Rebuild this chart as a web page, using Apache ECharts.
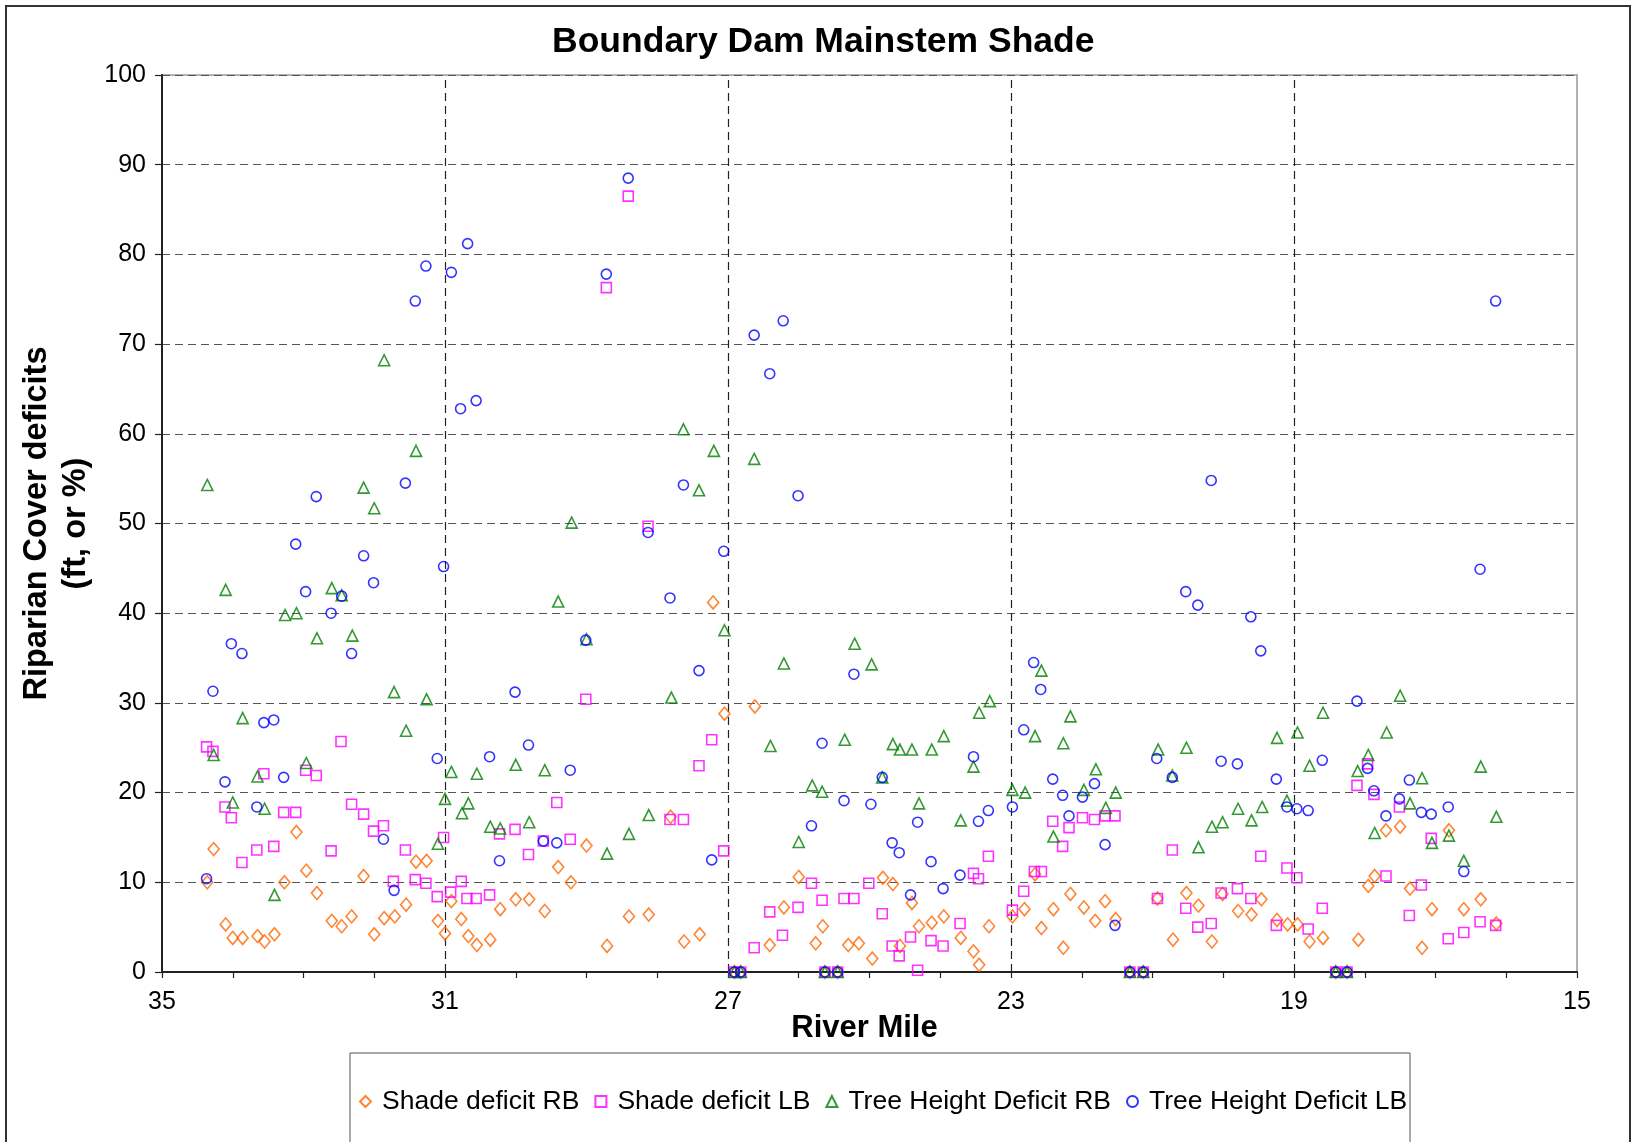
<!DOCTYPE html>
<html>
<head>
<meta charset="utf-8">
<script src="https://cdn.jsdelivr.net/npm/echarts@6/dist/echarts.min.js"></script>
<style>
html,body{margin:0;padding:0;background:#fff;}
#chart{width:1635px;height:1142px;}
</style>
</head>
<body>
<div id="chart"></div>
<script>
// [river mile, value]
const shadeDeficitRB = [
[34.36,10.0],[34.27,13.7],[34.10,5.3],[34.00,3.8],[33.86,3.8],[33.65,4.0],[33.55,3.4],[33.41,4.2],[33.27,10.0],[33.10,15.6],
[32.96,11.3],[32.81,8.8],[32.60,5.7],[32.46,5.1],[32.32,6.2],[32.15,10.7],[32.00,4.2],[31.86,6.0],[31.71,6.2],[31.55,7.5],
[31.41,12.3],[31.26,12.4],[31.10,5.7],[31.00,4.3],[30.91,7.9],[30.77,5.9],[30.67,4.0],[30.55,3.0],[30.36,3.6],[30.22,7.0],
[30.00,8.1],[29.81,8.1],[29.59,6.8],[29.40,11.7],[29.22,10.0],[29.00,14.1],[28.71,2.9],[28.40,6.2],[28.12,6.4],[27.81,17.3],
[27.62,3.4],[27.40,4.2],[27.21,41.2],[27.05,28.8],[26.91,0],[26.82,0],[26.62,29.6],[26.41,3.0],[26.21,7.2],[26.00,10.6],
[25.76,3.2],[25.66,5.1],[25.63,0],[25.45,0],[25.30,3.0],[25.15,3.2],[24.96,1.5],[24.81,10.5],[24.67,9.8],[24.57,2.9],
[24.40,7.7],[24.30,5.1],[24.12,5.5],[23.95,6.2],[23.71,3.8],[23.53,2.3],[23.45,0.8],[23.31,5.1],[22.98,6.2],[22.81,7.0],
[22.66,10.9],[22.57,4.9],[22.40,7.0],[22.26,2.7],[22.16,8.7],[21.97,7.2],[21.81,5.7],[21.67,7.9],[21.52,5.9],[21.32,0],
[21.13,0],[20.93,8.2],[20.71,3.6],[20.52,8.8],[20.35,7.4],[20.16,3.4],[20.01,8.7],[19.79,6.8],[19.60,6.4],[19.46,8.1],
[19.24,5.8],[19.09,5.3],[18.95,5.3],[18.78,3.4],[18.59,3.8],[18.41,0],[18.25,0],[18.09,3.6],[17.95,9.6],[17.86,10.7],
[17.70,15.8],[17.50,16.2],[17.36,9.3],[17.19,2.7],[17.05,7.0],[16.81,15.8],[16.60,7.0],[16.36,8.1],[16.14,5.4]
];
const shadeDeficitLB = [
[34.37,25.1],[34.28,24.6],[34.11,18.4],[34.02,17.2],[33.87,12.2],[33.66,13.6],[33.56,22.1],[33.42,14.0],[33.28,17.8],[33.11,17.8],
[32.97,22.5],[32.82,21.9],[32.61,13.5],[32.47,25.7],[32.32,18.7],[32.15,17.6],[32.01,15.7],[31.87,16.3],[31.73,10.1],[31.56,13.6],
[31.42,10.3],[31.27,9.9],[31.11,8.4],[31.02,15.0],[30.92,8.9],[30.77,10.1],[30.69,8.2],[30.56,8.2],[30.37,8.6],[30.23,15.4],
[30.01,15.9],[29.82,13.1],[29.61,14.6],[29.42,18.9],[29.23,14.8],[29.01,30.4],[28.72,76.3],[28.41,86.5],[28.13,49.7],[27.82,17.0],
[27.63,17.0],[27.41,23.0],[27.23,25.9],[27.06,13.5],[26.91,0],[26.82,0],[26.63,2.7],[26.41,6.7],[26.23,4.1],[26.01,7.2],
[25.82,9.9],[25.67,8.0],[25.63,0],[25.45,0],[25.36,8.2],[25.22,8.2],[25.01,9.9],[24.82,6.5],[24.68,2.9],[24.58,1.8],
[24.42,3.9],[24.32,0.2],[24.13,3.5],[23.96,2.9],[23.72,5.4],[23.53,11.0],[23.46,10.4],[23.32,12.9],[22.98,6.9],[22.82,9.0],
[22.67,11.2],[22.57,11.2],[22.41,16.8],[22.27,14.0],[22.18,16.1],[21.99,17.2],[21.82,17.0],[21.67,17.4],[21.53,17.4],[21.32,0],
[21.13,0],[20.93,8.2],[20.72,13.6],[20.53,7.1],[20.36,5.0],[20.17,5.4],[20.03,8.8],[19.80,9.3],[19.61,8.2],[19.47,12.9],
[19.25,5.2],[19.10,11.6],[18.96,10.5],[18.80,4.8],[18.60,7.1],[18.41,0],[18.25,0],[18.11,20.8],[17.96,23.2],[17.87,19.8],
[17.70,10.7],[17.51,18.4],[17.37,6.3],[17.20,9.7],[17.06,14.9],[16.82,3.7],[16.60,4.4],[16.37,5.6],[16.15,5.2]
];
const treeHeightDeficitRB = [
[34.36,54.3],[34.27,24.2],[34.10,42.6],[34.00,18.9],[33.86,28.3],[33.65,21.8],[33.55,18.2],[33.41,8.6],[33.26,39.8],[33.10,40.0],
[32.96,23.3],[32.81,37.2],[32.60,42.8],[32.46,42.0],[32.31,37.5],[32.15,54.0],[32.00,51.7],[31.86,68.2],[31.72,31.2],[31.55,26.9],
[31.41,58.1],[31.26,30.4],[31.10,14.3],[31.00,19.3],[30.91,22.3],[30.76,17.7],[30.67,18.8],[30.55,22.1],[30.36,16.2],[30.22,16.0],
[30.00,23.1],[29.81,16.7],[29.59,22.5],[29.40,41.3],[29.21,50.1],[29.00,37.1],[28.71,13.2],[28.40,15.4],[28.12,17.5],[27.80,30.6],
[27.63,60.5],[27.41,53.7],[27.20,58.1],[27.05,38.1],[26.91,0],[26.82,0],[26.63,57.2],[26.40,25.2],[26.21,34.4],[26.00,14.5],
[25.81,20.8],[25.67,20.1],[25.63,0],[25.45,0],[25.35,25.9],[25.21,36.6],[24.97,34.3],[24.82,21.7],[24.67,25.4],[24.57,24.8],
[24.40,24.8],[24.30,18.8],[24.12,24.8],[23.95,26.3],[23.71,16.9],[23.53,22.9],[23.45,28.9],[23.30,30.2],[22.98,20.3],[22.80,20.0],
[22.66,26.3],[22.57,33.6],[22.40,15.1],[22.26,25.5],[22.16,28.5],[21.97,20.3],[21.80,22.6],[21.66,18.3],[21.52,20.0],[21.32,0],
[21.13,0],[20.92,24.8],[20.72,21.9],[20.52,25.0],[20.35,13.9],[20.16,16.2],[20.01,16.7],[19.79,18.2],[19.60,16.9],[19.45,18.4],
[19.24,26.1],[19.10,19.1],[18.95,26.7],[18.78,23.0],[18.59,28.9],[18.41,0],[18.25,0],[18.10,22.4],[17.95,24.2],[17.86,15.5],
[17.69,26.7],[17.50,30.8],[17.36,18.8],[17.19,21.6],[17.05,14.4],[16.81,15.2],[16.60,12.4],[16.36,22.9],[16.14,17.3]
];
const treeHeightDeficitLB = [
[34.37,10.4],[34.28,31.3],[34.11,21.2],[34.02,36.6],[33.87,35.5],[33.66,18.4],[33.56,27.8],[33.42,28.1],[33.28,21.7],[33.11,47.7],
[32.97,42.4],[32.82,53.0],[32.61,40.0],[32.46,41.9],[32.32,35.5],[32.15,46.4],[32.01,43.4],[31.87,14.8],[31.72,9.1],[31.56,54.5],
[31.42,74.8],[31.27,78.7],[31.11,23.8],[31.02,45.2],[30.91,78.0],[30.78,62.8],[30.68,81.2],[30.56,63.7],[30.37,24.0],[30.23,12.4],
[30.01,31.2],[29.82,25.3],[29.61,14.6],[29.42,14.4],[29.23,22.5],[29.01,37.0],[28.72,77.8],[28.41,88.5],[28.13,49.0],[27.82,41.7],
[27.63,54.3],[27.41,33.6],[27.23,12.5],[27.06,46.9],[26.91,0],[26.82,0],[26.63,71.0],[26.41,66.7],[26.22,72.6],[26.01,53.1],
[25.82,16.3],[25.67,25.5],[25.63,0],[25.45,0],[25.36,19.1],[25.22,33.2],[24.98,18.7],[24.82,21.7],[24.68,14.4],[24.58,13.3],
[24.42,8.6],[24.32,16.7],[24.13,12.3],[23.96,9.3],[23.72,10.8],[23.53,24.0],[23.46,16.8],[23.32,18.0],[22.98,18.4],[22.82,27.0],
[22.68,34.5],[22.58,31.5],[22.41,21.5],[22.27,19.7],[22.18,17.4],[21.99,19.5],[21.82,21.0],[21.67,14.2],[21.53,5.2],[21.32,0],
[21.13,0],[20.94,23.8],[20.72,21.7],[20.53,42.4],[20.36,40.9],[20.17,54.8],[20.03,23.5],[19.80,23.2],[19.61,39.6],[19.47,35.8],
[19.25,21.5],[19.10,18.4],[18.96,18.2],[18.80,18.0],[18.60,23.6],[18.41,0],[18.25,0],[18.11,30.2],[17.96,22.7],[17.87,20.2],
[17.70,17.4],[17.51,19.3],[17.37,21.4],[17.20,17.8],[17.06,17.6],[16.82,18.4],[16.60,11.2],[16.37,44.9],[16.15,74.8]
];
const seriesNames = ['Shade deficit RB','Shade deficit LB','Tree Height Deficit RB','Tree Height Deficit LB'];
const verticalGridMiles = [31, 27, 23, 19];

const FONT = "'Liberation Sans', Arial, sans-serif";
const chart = echarts.init(document.getElementById('chart'), null, {renderer:'canvas'});

function hollow(name, data, symbol, size, color){
  return {
    name: name, type: 'scatter', data: data, symbol: symbol, symbolSize: size,
    itemStyle: {color: 'rgba(255,255,255,0)', borderColor: color, borderWidth: 1.6},
    emphasis: {disabled: true}, z: 3
  };
}

const s0 = hollow(seriesNames[0], shadeDeficitRB, 'diamond', [11,13], '#FF6600');
s0.markLine = {
  silent: true, symbol: 'none', animation: false, z: 1,
  label: {show: false},
  lineStyle: {color: '#222', width: 1.2, type: [8,5]},
  data: verticalGridMiles.map(v => ({xAxis: v}))
};

const option = {
  animation: false,
  backgroundColor: '#fff',
  title: {
    text: 'Boundary Dam Mainstem Shade',
    left: 552, top: 24, padding: 0,
    textStyle: {fontFamily: FONT, fontSize: 35.5, fontWeight: 'bold', color: '#000'}
  },
  grid: {left: 162, right: 58, top: 75, bottom: 170, show: true, borderColor: '#999', borderWidth: 1.5},
  xAxis: {
    type: 'value', min: 15, max: 35, interval: 1, inverse: true,
    name: 'River Mile', nameLocation: 'middle', nameGap: 41, nameMoveOverlap: false,
    nameTextStyle: {fontFamily: FONT, fontSize: 31, fontWeight: 'bold', color: '#000', padding: [0, 10, 0, 0]},
    axisLine: {show: true, onZero: false, lineStyle: {color: '#222', width: 2}},
    axisTick: {show: true, length: 6, lineStyle: {color: '#222', width: 1.2}},
    axisLabel: {
      fontFamily: FONT, fontSize: 25, color: '#000', margin: 18,
      formatter: v => ((35 - v) % 4 === 0 ? String(v) : '')
    },
    splitLine: {show: false}
  },
  yAxis: {
    type: 'value', min: 0, max: 100, interval: 10,
    name: 'Riparian Cover deficits\n(ft, or %)', nameLocation: 'middle', nameGap: 66, nameMoveOverlap: false,
    nameTextStyle: {fontFamily: FONT, fontSize: 32.5, fontWeight: 'bold', color: '#000', lineHeight: 39, align: 'center'},
    axisLine: {show: true, lineStyle: {color: '#222', width: 2}},
    axisTick: {show: true, length: 7, lineStyle: {color: '#222', width: 1.2}},
    axisLabel: {fontFamily: FONT, fontSize: 25, color: '#000', margin: 16},
    splitLine: {show: true, lineStyle: {color: '#555', width: 1.2, type: [8,5]}}
  },
  legend: {
    show: true, left: 354, top: 1083, orient: 'horizontal',
    itemWidth: 11, itemHeight: 11, itemGap: 15,
    textStyle: {fontFamily: FONT, fontSize: 26.5, color: '#000', padding: [0,0,0,6]},
    data: seriesNames
  },
  graphic: [
    {type: 'rect', shape: {x: 6, y: 6, width: 1624, height: 1160}, style: {fill: 'none', stroke: '#333', lineWidth: 2}, silent: true, z: -1},
    {type: 'rect', shape: {x: 350, y: 1053, width: 1060, height: 120}, style: {fill: 'none', stroke: '#555', lineWidth: 1}, silent: true, z: -1}
  ],
  series: [
    s0,
    hollow(seriesNames[1], shadeDeficitLB, 'rect', 10, '#FF00FF'),
    hollow(seriesNames[2], treeHeightDeficitRB, 'triangle', 11, '#008000'),
    hollow(seriesNames[3], treeHeightDeficitLB, 'circle', 10, '#0000FF')
  ]
};
chart.setOption(option);
</script>
</body>
</html>
